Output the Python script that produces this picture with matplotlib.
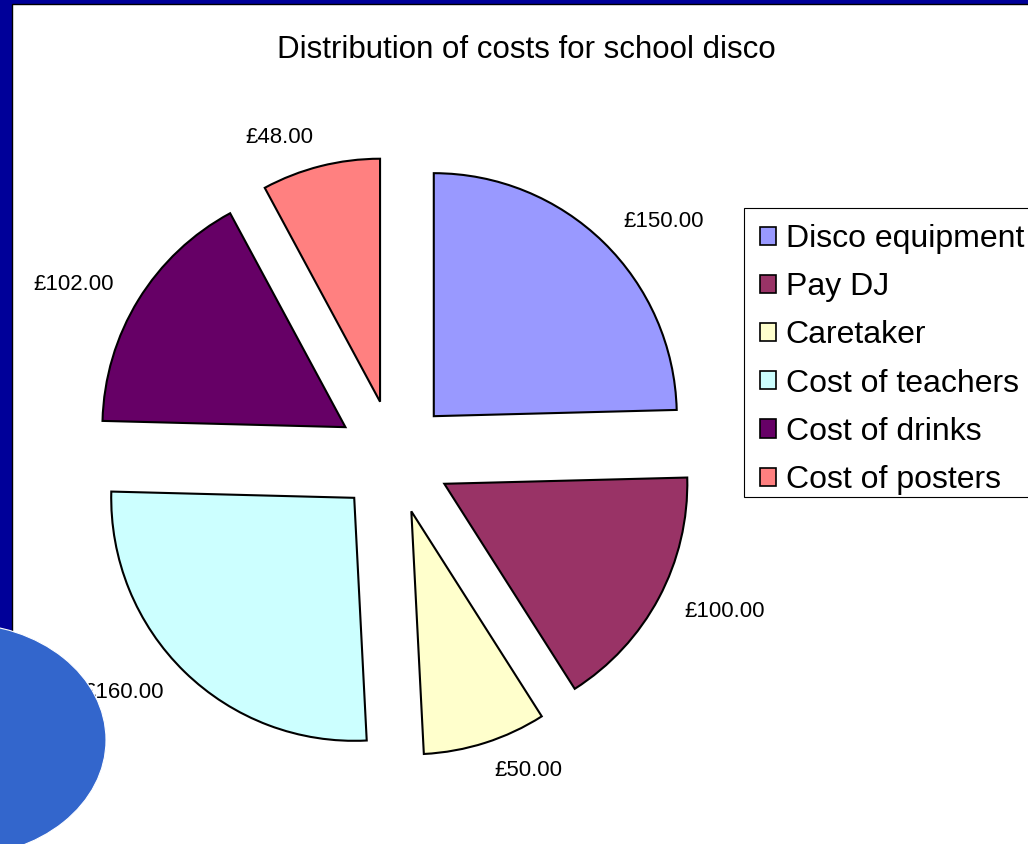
import numpy as np
import matplotlib.pyplot as plt
from matplotlib.patches import Rectangle, Ellipse, Patch

plt.rcParams['font.family'] = ['Liberation Sans', 'DejaVu Sans']

# costs for the school disco
items = ['Disco equipment', 'Pay DJ', 'Caretaker', 'Cost of teachers',
         'Cost of drinks', 'Cost of posters']
costs = [150, 100, 50, 160, 102, 48]
colours = ['#9999FF', '#993366', '#FFFFCC', '#CCFFFF', '#660066', '#FF8080']

labels = ['£%.2f' % c for c in costs]

fig = plt.figure(figsize=(10.28, 8.44), dpi=100, facecolor='#000099')
ax = fig.add_axes([0, 0, 1, 1])
ax.set_facecolor('#000099')

# white slide panel
ax.add_patch(Rectangle((12, -10), 1100, 844 - 4 + 10, facecolor='white',
                       edgecolor='black', linewidth=1, zorder=0))

r = 243
wedges, texts = ax.pie(costs, labels=labels, colors=colours,
                       explode=[57] * len(costs), startangle=90,
                       counterclock=False, center=(394, 387), radius=r,
                       labeldistance=1.12,
                       wedgeprops=dict(edgecolor='black', linewidth=1.5),
                       textprops=dict(fontsize=16, color='black'))
# pie aligns by the data origin, not the pie centre, so fix alignment
for w, t in zip(wedges, texts):
    mid = np.deg2rad((w.theta1 + w.theta2) / 2)
    t.set_ha('left' if np.cos(mid) > 0 else 'right')
    t.set_va('center')

ax.set_xlim(0, 1028)
ax.set_ylim(0, 844)
ax.set_aspect('equal')
ax.set_axis_off()

# blue decoration bottom left
ax.add_patch(Ellipse((-40, 104), 292, 233, facecolor='#3366CC',
                     edgecolor='white', linewidth=0.8, zorder=5))

ax.text(526, 844 - 50, 'Distribution of costs for school disco',
        ha='center', va='center', fontsize=22.5)

# legend box drawn separately so its height matches
ax.add_patch(Rectangle((744, 844 - 497), 400, 289, facecolor='white',
                       edgecolor='black', linewidth=0.8, zorder=3))
handles = [Patch(facecolor=c, edgecolor='black', linewidth=1.2) for c in colours]
leg = ax.legend(handles, items, loc='upper left',
                bbox_to_anchor=(744 / 1028, 1 - 208 / 844),
                bbox_transform=fig.transFigure, fontsize=23,
                frameon=False, borderpad=0.5,
                handlelength=0.5, handleheight=0.5, handletextpad=0.3,
                labelspacing=0.57, borderaxespad=0)
leg.set_zorder(6)

fig.savefig('out.png', dpi=100, facecolor=fig.get_facecolor())
